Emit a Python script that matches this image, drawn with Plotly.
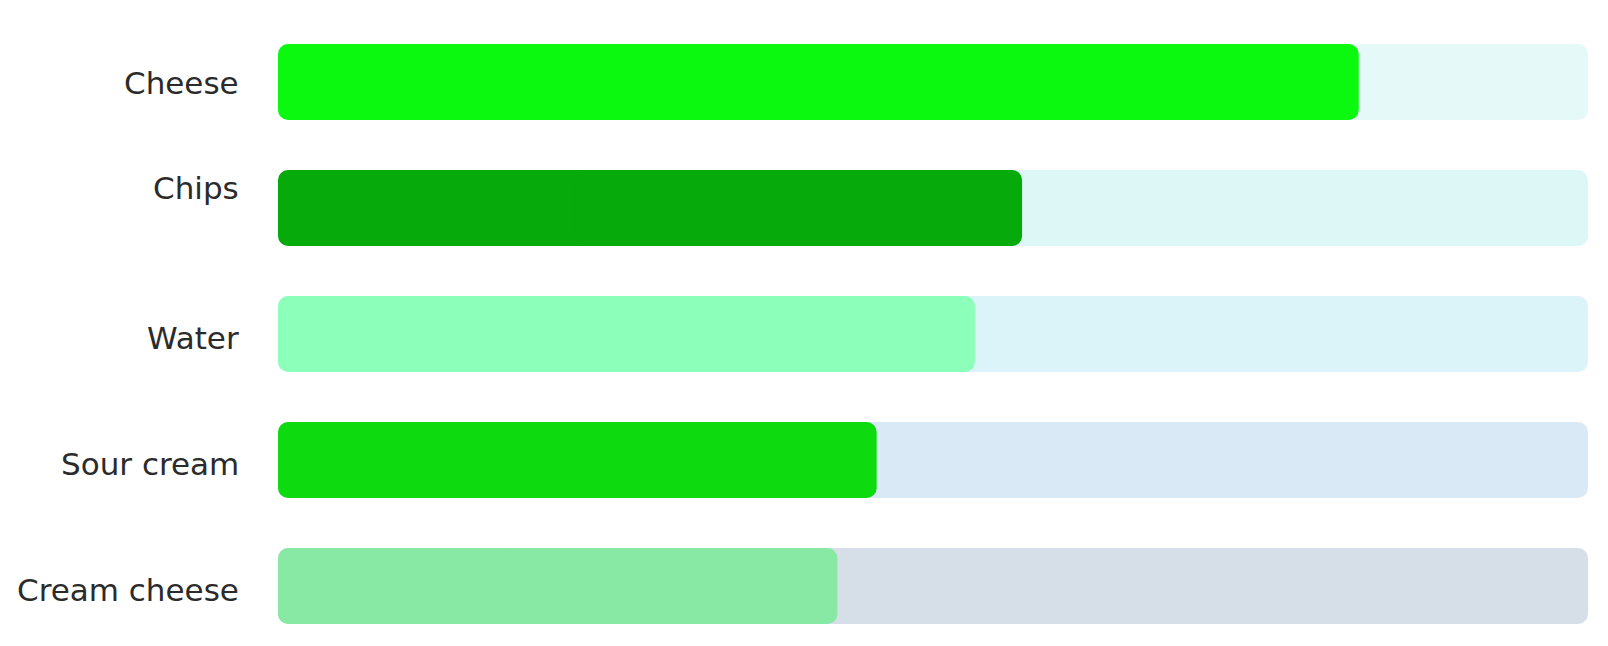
import plotly.graph_objects as go

categories = ["Cheese", "Chips", "Water", "Sour cream", "Cream cheese"]
values = [82.5, 56.8, 53.2, 45.7, 42.7]
max_value = 100
bar_colors = ["#0AF90F", "#06AA0A", "#8CFFBA", "#0DDB0F", "#87E9A3"]
track_colors = ["#E5F9F8", "#DDF7F7", "#DAF4FA", "#D9E9F5", "#D6DEE8"]
label_shift = [-1, 20, -4, -4, -4]

fig = go.Figure()
R = 10


def rounded(vals, colors):
    # two overlapping halves, each rounded at its far end -> both ends rounded
    fig.add_trace(go.Bar(
        y=categories, x=[-0.6 * v for v in vals], base=[0.6 * v for v in vals],
        orientation="h", marker=dict(color=colors, cornerradius=R, line=dict(width=0)),
        hoverinfo="skip", showlegend=False))
    fig.add_trace(go.Bar(
        y=categories, x=[0.6 * v for v in vals], base=[0.4 * v for v in vals],
        orientation="h", marker=dict(color=colors, cornerradius=R, line=dict(width=0)),
        hoverinfo="skip", showlegend=False))


rounded([max_value] * len(categories), track_colors)
rounded(values, bar_colors)

for cat, s in zip(categories, label_shift):
    fig.add_annotation(
        x=0, xref="paper", xanchor="right", xshift=-37,
        y=cat, yref="y", yshift=s, showarrow=False,
        text=cat, font=dict(family="DejaVu Sans", size=31, color="#2b2b2b"))

W, H = 1600, 638
top_center, pitch = 74, 126
fig.update_layout(
    width=W, height=H,
    margin=dict(l=270, r=20, t=0, b=0),
    barmode="overlay", bargap=0.397,
    paper_bgcolor="white", plot_bgcolor="white",
    xaxis=dict(range=[0, max_value], visible=False, fixedrange=True),
    yaxis=dict(range=[(H - top_center) / pitch, -top_center / pitch], visible=False,
               categoryorder="array", categoryarray=categories, fixedrange=True),
)

fig.write_html("out.html")
